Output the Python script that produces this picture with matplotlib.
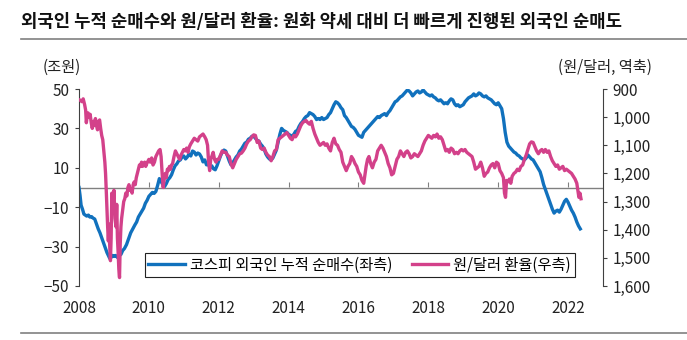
#=======================================================================
# 외국인 누적 순매수와 원/달러 환율 chart
#=======================================================================
import matplotlib
matplotlib.use("Agg")
import matplotlib.pyplot as plt
from matplotlib.lines import Line2D

plt.rcParams['font.family'] = ['Noto Sans CJK KR', 'DejaVu Sans']

# DATA -----------------------------------------------------------------
# KOSPI foreign cumulative net purchase (조원), decimal years
flow_years = [
    2008.00, 2008.03, 2008.06, 2008.10, 2008.14, 2008.18, 2008.22, 2008.27,
    2008.31, 2008.36, 2008.40, 2008.45, 2008.50, 2008.55, 2008.60, 2008.65,
    2008.70, 2008.75, 2008.80, 2008.84, 2008.88, 2008.92, 2008.96, 2009.00,
    2009.05, 2009.10, 2009.15, 2009.20, 2009.25, 2009.30, 2009.36, 2009.42,
    2009.48, 2009.54, 2009.60, 2009.65, 2009.70, 2009.75, 2009.80, 2009.85,
    2009.90, 2009.95, 2010.00, 2010.05, 2010.10, 2010.15, 2010.20, 2010.25,
    2010.30, 2010.35, 2010.40, 2010.45, 2010.50, 2010.55, 2010.60, 2010.65,
    2010.70, 2010.75, 2010.80, 2010.85, 2010.90, 2010.95, 2011.00, 2011.05,
    2011.10, 2011.15, 2011.20, 2011.25, 2011.30, 2011.35, 2011.40, 2011.45,
    2011.50, 2011.55, 2011.60, 2011.65, 2011.70, 2011.75, 2011.80, 2011.85,
    2011.90, 2011.95, 2012.00, 2012.05, 2012.10, 2012.15, 2012.20, 2012.25,
    2012.30, 2012.35, 2012.40, 2012.45, 2012.50, 2012.55, 2012.60, 2012.65,
    2012.70, 2012.75, 2012.80, 2012.85, 2012.90, 2012.95, 2013.00, 2013.05,
    2013.10, 2013.15, 2013.20, 2013.25, 2013.30, 2013.35, 2013.40, 2013.45,
    2013.50, 2013.55, 2013.60, 2013.65, 2013.70, 2013.75, 2013.80, 2013.85,
    2013.90, 2013.95, 2014.00, 2014.05, 2014.10, 2014.15, 2014.20, 2014.25,
    2014.30, 2014.35, 2014.40, 2014.45, 2014.50, 2014.55, 2014.60, 2014.65,
    2014.70, 2014.75, 2014.80, 2014.85, 2014.90, 2014.95, 2015.00, 2015.05,
    2015.10, 2015.15, 2015.20, 2015.25, 2015.30, 2015.35, 2015.40, 2015.45,
    2015.50, 2015.55, 2015.60, 2015.65, 2015.70, 2015.75, 2015.80, 2015.85,
    2015.90, 2015.95, 2016.00, 2016.05, 2016.10, 2016.15, 2016.20, 2016.25,
    2016.30, 2016.35, 2016.40, 2016.45, 2016.50, 2016.55, 2016.60, 2016.65,
    2016.70, 2016.75, 2016.80, 2016.85, 2016.90, 2016.95, 2017.00, 2017.05,
    2017.10, 2017.15, 2017.20, 2017.25, 2017.30, 2017.35, 2017.40, 2017.45,
    2017.50, 2017.55, 2017.60, 2017.65, 2017.70, 2017.75, 2017.80, 2017.85,
    2017.90, 2017.95, 2018.00, 2018.05, 2018.10, 2018.15, 2018.20, 2018.25,
    2018.30, 2018.35, 2018.40, 2018.45, 2018.50, 2018.55, 2018.60, 2018.65,
    2018.70, 2018.75, 2018.80, 2018.85, 2018.90, 2018.95, 2019.00, 2019.05,
    2019.10, 2019.15, 2019.20, 2019.25, 2019.30, 2019.35, 2019.40, 2019.45,
    2019.50, 2019.55, 2019.60, 2019.65, 2019.70, 2019.75, 2019.80, 2019.85,
    2019.90, 2019.95, 2020.00, 2020.05, 2020.10, 2020.15, 2020.20, 2020.25,
    2020.30, 2020.35, 2020.40, 2020.45, 2020.50, 2020.55, 2020.60, 2020.65,
    2020.70, 2020.75, 2020.80, 2020.85, 2020.90, 2020.95, 2021.00, 2021.05,
    2021.10, 2021.15, 2021.20, 2021.25, 2021.30, 2021.35, 2021.40, 2021.45,
    2021.50, 2021.55, 2021.60, 2021.65, 2021.70, 2021.75, 2021.80, 2021.85,
    2021.90, 2021.95, 2022.00, 2022.05, 2022.10, 2022.15, 2022.20, 2022.25,
    2022.30, 2022.35,
]
flow_net = [
    0, -4, -9, -11, -13.5, -14, -14.5, -14,
    -15, -14.8, -15.5, -16, -18.5, -21, -23, -25.5,
    -28, -30.5, -33, -34.5, -36, -35.5, -34.5, -35,
    -34.5, -35.5, -34.5, -34, -32, -31, -29, -26,
    -23, -21, -19, -17.5, -15, -13.5, -12, -10.5,
    -8, -6.5, -4.5, -3.5, -2.5, -3, -2, 1,
    4.5, 3, 1.5, 0.5, 2, 4, 5, 6.5,
    9, 11, 12, 13.5, 14, 15.5, 16, 14.5,
    15.5, 17, 16, 18.5, 18, 16.5, 17.5, 17,
    15.5, 13, 14, 11.5, 12, 10, 11, 9.5,
    9, 11, 13.5, 16, 18, 19, 18.5, 16,
    13.5, 11.5, 12.5, 14, 15.5, 16.5, 18.5, 19.5,
    21, 22.5, 23, 24.5, 25, 26, 26, 25,
    24, 23.5, 22, 21, 19.5, 17, 15.5, 14.5,
    14, 15, 17, 19, 23, 27, 30, 29,
    28.5, 28, 27, 26.5, 26, 27, 28.5, 29,
    31, 32.5, 33.5, 35, 36, 36.5, 38, 37.5,
    37, 36, 34.5, 35, 34.5, 35.5, 34.5, 35,
    35.5, 37, 38, 40, 42, 43.5, 43, 42,
    40.5, 39.5, 36.5, 35.5, 34, 32.5, 31, 30.5,
    29.5, 28, 26.5, 26, 25.5, 28, 29, 30,
    31, 32, 33, 34, 35, 36, 35.5, 36.5,
    37, 37.5, 36.5, 38, 39, 40.5, 42, 43.5,
    44, 45, 46, 46.5, 47.5, 48.5, 49.5, 49,
    48, 46.5, 47.5, 48.5, 49, 48, 48.5, 49.5,
    48.5, 47.5, 47, 46.5, 47, 46, 45.5, 44.5,
    44, 44.5, 43.5, 42.5, 43, 42.5, 44, 45,
    44.5, 42.5, 41.5, 42, 41, 41.5, 42, 43.5,
    44.5, 45.5, 46, 46.5, 47.5, 46.5, 47, 48,
    47.5, 46.5, 46, 46.5, 45.5, 45, 44.5, 43.5,
    42.5, 42, 43, 41.5, 40, 35, 28, 23,
    21, 20, 19, 18, 17.5, 16.5, 16, 15,
    14.5, 14, 15, 16.5, 15.5, 14.5, 14, 12.5,
    11, 9.5, 8, 5, 1.5, -1, -3.5, -6,
    -8.5, -11, -13, -12, -11.5, -12.5, -11, -9,
    -7, -6, -7.5, -9.5, -11.5, -13, -15, -17.5,
    -19.5, -21,
]

# KRW per USD, decimal years
fx_years = [
    2008.00, 2008.04, 2008.08, 2008.12, 2008.16, 2008.19, 2008.21, 2008.23,
    2008.26, 2008.29, 2008.32, 2008.35, 2008.38, 2008.41, 2008.44, 2008.47,
    2008.50, 2008.53, 2008.56, 2008.59, 2008.62, 2008.65, 2008.68, 2008.71,
    2008.74, 2008.76, 2008.78, 2008.80, 2008.82, 2008.84, 2008.86, 2008.88,
    2008.90, 2008.92, 2008.94, 2008.96, 2008.98, 2009.00, 2009.03, 2009.06,
    2009.08, 2009.10, 2009.12, 2009.14, 2009.16, 2009.18, 2009.20, 2009.22,
    2009.25, 2009.28, 2009.31, 2009.34, 2009.37, 2009.40, 2009.43, 2009.46,
    2009.49, 2009.52, 2009.55, 2009.58, 2009.61, 2009.64, 2009.67, 2009.70,
    2009.73, 2009.76, 2009.79, 2009.82, 2009.85, 2009.88, 2009.91, 2009.94,
    2010.00, 2010.04, 2010.08, 2010.12, 2010.16, 2010.20, 2010.24, 2010.28,
    2010.32, 2010.35, 2010.38, 2010.41, 2010.44, 2010.47, 2010.50, 2010.53,
    2010.56, 2010.59, 2010.62, 2010.65, 2010.68, 2010.72, 2010.76, 2010.80,
    2010.84, 2010.88, 2010.92, 2010.96, 2011.00, 2011.04, 2011.08, 2011.12,
    2011.16, 2011.20, 2011.25, 2011.30, 2011.35, 2011.40, 2011.45, 2011.50,
    2011.55, 2011.60, 2011.64, 2011.68, 2011.71, 2011.74, 2011.77, 2011.80,
    2011.84, 2011.88, 2011.92, 2011.96, 2012.00, 2012.05, 2012.10, 2012.15,
    2012.20, 2012.25, 2012.30, 2012.35, 2012.40, 2012.45, 2012.50, 2012.55,
    2012.60, 2012.65, 2012.70, 2012.75, 2012.80, 2012.85, 2012.90, 2012.95,
    2013.00, 2013.05, 2013.10, 2013.15, 2013.20, 2013.25, 2013.30, 2013.35,
    2013.40, 2013.45, 2013.50, 2013.55, 2013.60, 2013.65, 2013.70, 2013.75,
    2013.80, 2013.85, 2013.90, 2013.95, 2014.00, 2014.05, 2014.10, 2014.15,
    2014.20, 2014.25, 2014.30, 2014.35, 2014.40, 2014.45, 2014.50, 2014.55,
    2014.60, 2014.65, 2014.70, 2014.75, 2014.80, 2014.85, 2014.90, 2014.95,
    2015.00, 2015.05, 2015.10, 2015.15, 2015.20, 2015.25, 2015.30, 2015.35,
    2015.40, 2015.45, 2015.50, 2015.55, 2015.60, 2015.65, 2015.70, 2015.75,
    2015.80, 2015.85, 2015.90, 2015.95, 2016.00, 2016.05, 2016.10, 2016.15,
    2016.18, 2016.22, 2016.26, 2016.30, 2016.35, 2016.40, 2016.45, 2016.50,
    2016.55, 2016.60, 2016.65, 2016.70, 2016.75, 2016.80, 2016.85, 2016.90,
    2016.95, 2017.00, 2017.05, 2017.10, 2017.15, 2017.20, 2017.25, 2017.30,
    2017.35, 2017.40, 2017.45, 2017.50, 2017.55, 2017.60, 2017.65, 2017.70,
    2017.75, 2017.80, 2017.85, 2017.90, 2017.95, 2018.00, 2018.05, 2018.10,
    2018.15, 2018.20, 2018.25, 2018.30, 2018.35, 2018.40, 2018.45, 2018.50,
    2018.55, 2018.60, 2018.65, 2018.70, 2018.75, 2018.80, 2018.85, 2018.90,
    2018.95, 2019.00, 2019.05, 2019.10, 2019.15, 2019.20, 2019.25, 2019.30,
    2019.35, 2019.40, 2019.45, 2019.50, 2019.55, 2019.60, 2019.65, 2019.70,
    2019.75, 2019.80, 2019.85, 2019.90, 2019.95, 2020.00, 2020.05, 2020.10,
    2020.15, 2020.18, 2020.21, 2020.24, 2020.28, 2020.32, 2020.36, 2020.40,
    2020.45, 2020.50, 2020.55, 2020.60, 2020.65, 2020.70, 2020.75, 2020.80,
    2020.85, 2020.90, 2020.95, 2021.00, 2021.05, 2021.10, 2021.15, 2021.20,
    2021.25, 2021.30, 2021.35, 2021.40, 2021.45, 2021.50, 2021.55, 2021.60,
    2021.65, 2021.70, 2021.75, 2021.80, 2021.85, 2021.90, 2021.95, 2022.00,
    2022.05, 2022.10, 2022.15, 2022.20, 2022.25, 2022.28, 2022.31, 2022.34,
    2022.37,
]
fx_rate = [
    938, 940, 945, 935, 955, 975, 1020, 1000,
    985, 1000, 990, 1020, 1040, 1015, 1030, 1005,
    1030, 1045, 1015, 1010, 1040, 1065, 1080, 1120,
    1160, 1200, 1260, 1330, 1390, 1440, 1380, 1460,
    1510, 1430, 1270, 1330, 1300, 1260, 1360, 1390,
    1310, 1430, 1480, 1540, 1570, 1450, 1390, 1360,
    1330, 1300, 1290, 1270, 1280, 1250, 1240, 1260,
    1255, 1270, 1240, 1230, 1240, 1215, 1200, 1185,
    1170, 1175, 1160, 1175, 1165, 1160, 1175, 1165,
    1150, 1160, 1145, 1170, 1160, 1140, 1130, 1120,
    1115, 1140, 1200, 1250, 1220, 1200, 1215, 1185,
    1190, 1175, 1185, 1170, 1165, 1140, 1120, 1130,
    1140, 1150, 1135, 1125, 1115, 1120, 1110, 1125,
    1105, 1095, 1085, 1075, 1080, 1085, 1070, 1065,
    1060, 1070, 1080, 1100, 1160, 1190, 1150, 1140,
    1125, 1150, 1160, 1150, 1150, 1135, 1120, 1125,
    1125, 1135, 1140, 1165, 1180, 1165, 1150, 1140,
    1130, 1128, 1120, 1110, 1095, 1085, 1080, 1070,
    1063, 1065, 1090, 1085, 1110, 1115, 1110, 1125,
    1135, 1140, 1155, 1140, 1120, 1115, 1080, 1075,
    1070, 1065, 1060, 1055, 1065, 1075, 1080, 1065,
    1070, 1060, 1045, 1030, 1020, 1015, 1012, 1020,
    1025, 1015, 1040, 1060, 1075, 1090, 1100, 1095,
    1090, 1100, 1095, 1110, 1120, 1090, 1075, 1095,
    1100, 1115, 1125, 1160, 1175, 1190, 1175, 1165,
    1140, 1150, 1165, 1175, 1195, 1205, 1225, 1235,
    1210, 1175, 1150, 1140, 1165, 1180, 1160, 1150,
    1120, 1110, 1100, 1110, 1125, 1140, 1165, 1180,
    1205, 1200, 1175, 1150, 1140, 1120, 1130, 1140,
    1125, 1120, 1130, 1145, 1140, 1130, 1135, 1140,
    1130, 1120, 1100, 1085, 1075, 1065, 1070, 1075,
    1065, 1070, 1060, 1075, 1070, 1080, 1100, 1120,
    1115, 1125, 1110, 1115, 1130, 1125, 1130, 1120,
    1115, 1120, 1115, 1125, 1130, 1135, 1140, 1160,
    1185, 1180, 1175, 1160, 1180, 1210, 1200, 1195,
    1180, 1170, 1165, 1180, 1160, 1165, 1190, 1200,
    1215, 1270, 1285, 1225, 1230, 1220, 1235, 1210,
    1200, 1195, 1185, 1190, 1175, 1170, 1150, 1135,
    1115, 1095, 1088, 1090, 1105, 1120, 1130, 1120,
    1115, 1125, 1115, 1125, 1120, 1140, 1155, 1165,
    1175, 1170, 1185, 1180, 1175, 1190, 1185, 1190,
    1195, 1200, 1210, 1220, 1235, 1260, 1285, 1270,
    1290,
]

year_ticks = [2008, 2010, 2012, 2014, 2016, 2018, 2020, 2022]
left_ticks = [-50, -30, -10, 10, 30, 50]
right_ticks = [900, 1000, 1100, 1200, 1300, 1400, 1500, 1600]

title = "외국인 누적 순매수와 원/달러 환율: 원화 약세 대비 더 빠르게 진행된 외국인 순매도"
flow_label = "코스피 외국인 누적 순매수(좌측)"
fx_label = "원/달러 환율(우측)"

BLUE = "#1171BD"
PINK = "#D3418A"
AXIS = "#404040"
GRAY = "#808080"
TXT = "#222222"

# FIGURE ---------------------------------------------------------------
fig = plt.figure(figsize=(6.87, 3.40), dpi=100)
ax = fig.add_axes([79 / 687, 1 - 286 / 340, (603 - 79) / 687, (286 - 89) / 340])
ax2 = ax.twinx()

# zero line on the left axis
ax.axhline(0, color=GRAY, lw=1.0, zorder=1)
ax.plot(flow_years, flow_net, color=BLUE, lw=2.4, solid_joinstyle='round',
        zorder=2)
ax2.plot(fx_years, fx_rate, color=PINK, lw=2.4, solid_joinstyle='round')

# left axis
ax.set_xlim(2008, 2023)
ax.set_ylim(-50, 50)
ax.set_yticks(left_ticks)
ax.set_xticks(year_ticks)
ax.tick_params(axis='y', direction='out', length=3, width=0.8, color=AXIS,
               labelsize=11, pad=4, labelcolor=TXT)
ax.tick_params(axis='x', length=0, labelsize=11, pad=10, labelcolor=TXT)
for s in ['top', 'bottom', 'right']:
    ax.spines[s].set_visible(False)
ax.spines['left'].set_color(AXIS)
ax.spines['left'].set_linewidth(0.8)

# year ticks hanging from the zero line
sec = ax.secondary_xaxis(0.5)
sec.set_xticks(year_ticks)
sec.tick_params(axis='x', direction='out', length=3.5, width=0.8, color=GRAY,
                labelbottom=False, labeltop=False)
for s in sec.spines.values():
    s.set_visible(False)

# right axis (reversed)
ax2.set_ylim(1600, 900)
ax2.set_yticks(right_ticks)
ax2.set_yticklabels([f"{v:,}" for v in right_ticks])
ax2.tick_params(axis='y', direction='out', length=3, width=0.8, color=AXIS,
                labelsize=11, pad=4, labelcolor=TXT)
for s in ['top', 'bottom', 'left']:
    ax2.spines[s].set_visible(False)
ax2.spines['right'].set_color(AXIS)
ax2.spines['right'].set_linewidth(0.8)

# TEXT -----------------------------------------------------------------
fig.text(21 / 687, 1 - 22 / 340, title, fontsize=12.8, fontweight='bold',
         ha='left', va='center', color='#111111')
fig.add_artist(Line2D([21 / 687, 1.0], [1 - 39 / 340, 1 - 39 / 340],
                      color=GRAY, lw=1.2))
fig.add_artist(Line2D([21 / 687, 1.0], [1 - 333 / 340, 1 - 333 / 340],
                      color=GRAY, lw=1.2))
fig.text(62 / 687, 1 - 67 / 340, "(조원)", fontsize=11, ha='center',
         va='center', color=TXT)
fig.text(652 / 687, 1 - 67 / 340, "(원/달러, 역축)", fontsize=11, ha='right',
         va='center', color=TXT)

# LEGEND ---------------------------------------------------------------
handles = [Line2D([], [], color=BLUE, lw=2.4), Line2D([], [], color=PINK, lw=2.4)]
leg = fig.legend(handles, [flow_label, fx_label], loc='center',
                 bbox_to_anchor=(359.5 / 687, 1 - 265 / 340), ncol=2,
                 fontsize=11, frameon=True, fancybox=False, framealpha=1,
                 edgecolor='#222222', handlelength=2.4, handletextpad=0.3,
                 columnspacing=1.3, borderpad=0.25, borderaxespad=0)
leg.get_frame().set_linewidth(0.8)

fig.savefig("out.png", dpi=100)
